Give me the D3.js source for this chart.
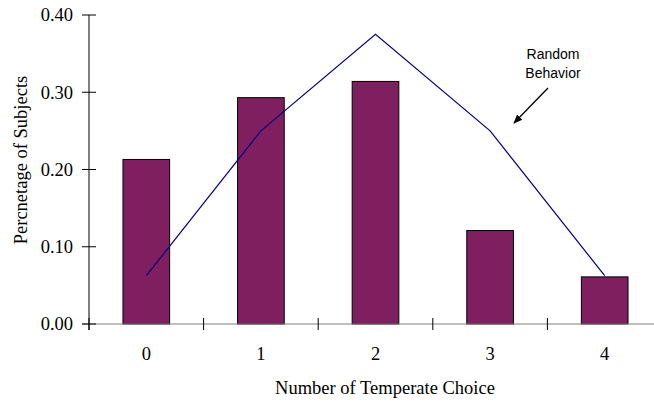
<!DOCTYPE html>
<html><head><meta charset="utf-8">
<script src="https://cdn.jsdelivr.net/npm/d3@7"></script>
<style>html,body{margin:0;padding:0;background:#fff;}svg{display:block;}</style>
</head><body>
<svg id="chart" width="654" height="403"></svg>
<script>
const categories = ["0", "1", "2", "3", "4"];
const observed = [0.213, 0.293, 0.314, 0.121, 0.061];
const randomBehavior = [0.0625, 0.25, 0.375, 0.25, 0.0625];
const yTicks = [0.00, 0.10, 0.20, 0.30, 0.40];

const svg = d3.select("#chart");
const x0 = 89, x1 = 662, yTop = 15, yBot = 324;
const x = d3.scaleBand().domain(categories).range([x0, x1]).padding(0);
const y = d3.scaleLinear().domain([0, 0.4]).range([yBot, yTop]);
const barFrac = 0.407;
const bw = x.bandwidth() * barFrac;
const serif = '"Liberation Serif", "Times New Roman", Times, serif';
const sans = '"Liberation Sans", Arial, sans-serif';
const fs = "18.5px";

// bars
svg.append("g").selectAll("rect").data(observed).join("rect")
  .attr("x", (d, i) => x(categories[i]) + (x.bandwidth() - bw) / 2)
  .attr("y", d => y(d))
  .attr("width", bw)
  .attr("height", d => y(0) - y(d))
  .attr("fill", "#7f1f5f")
  .attr("stroke", "#000")
  .attr("stroke-width", 1);

// x axis
svg.append("line").attr("x1", 82).attr("x2", 654).attr("y1", y(0)).attr("y2", y(0))
  .attr("stroke", "#808080").attr("stroke-width", 1.2);
const xb = categories.map(c => x(c));
svg.append("g").selectAll("line").data(xb).join("line")
  .attr("x1", d => d).attr("x2", d => d)
  .attr("y1", y(0) - 6).attr("y2", y(0) + 6)
  .attr("stroke", "#000").attr("stroke-width", 1);
svg.append("g").selectAll("text").data(categories).join("text")
  .attr("x", d => x(d) + x.bandwidth() / 2)
  .attr("y", 360)
  .attr("text-anchor", "middle")
  .style("font-family", serif).style("font-size", fs)
  .text(d => d);

// y axis
svg.append("line").attr("x1", x0).attr("x2", x0).attr("y1", y(0.4)).attr("y2", y(0) + 6)
  .attr("stroke", "#000").attr("stroke-width", 1);
svg.append("g").selectAll("line").data(yTicks).join("line")
  .attr("x1", x0 - 7).attr("x2", x0 + 7)
  .attr("y1", d => y(d)).attr("y2", d => y(d))
  .attr("stroke", "#000").attr("stroke-width", 1);
svg.append("g").selectAll("text").data(yTicks).join("text")
  .attr("x", 73).attr("y", d => y(d))
  .attr("dy", "0.35em")
  .attr("text-anchor", "end")
  .style("font-family", serif).style("font-size", fs)
  .text(d => d.toFixed(2));

// line
const line = d3.line()
  .x((d, i) => x(categories[i]) + x.bandwidth() / 2)
  .y(d => y(d));
svg.append("path").datum(randomBehavior)
  .attr("d", line).attr("fill", "none")
  .attr("stroke", "#000080").attr("stroke-width", 1.2);

// axis titles
svg.append("text").attr("x", 385).attr("y", 394)
  .attr("text-anchor", "middle")
  .style("font-family", serif).style("font-size", fs)
  .text("Number of Temperate Choice");
svg.append("text").attr("transform", "translate(27,160) rotate(-90)")
  .attr("text-anchor", "middle")
  .style("font-family", serif).style("font-size", fs)
  .text("Percnetage of Subjects");

// annotation
svg.append("text").attr("x", 553).attr("y", 59).attr("text-anchor", "middle")
  .style("font-family", sans).style("font-size", "14px").text("Random");
svg.append("text").attr("x", 553).attr("y", 78).attr("text-anchor", "middle")
  .style("font-family", sans).style("font-size", "14px").text("Behavior");
svg.append("defs").append("marker").attr("id", "ah")
  .attr("viewBox", "0 0 10 10").attr("refX", 9).attr("refY", 5)
  .attr("markerWidth", 7).attr("markerHeight", 7).attr("orient", "auto")
  .append("path").attr("d", "M0,1 L10,5 L0,9 Z").attr("fill", "#000");
svg.append("line").attr("x1", 548).attr("y1", 88).attr("x2", 514).attr("y2", 123)
  .attr("stroke", "#000").attr("stroke-width", 1.3).attr("marker-end", "url(#ah)");
</script>
</body></html>
